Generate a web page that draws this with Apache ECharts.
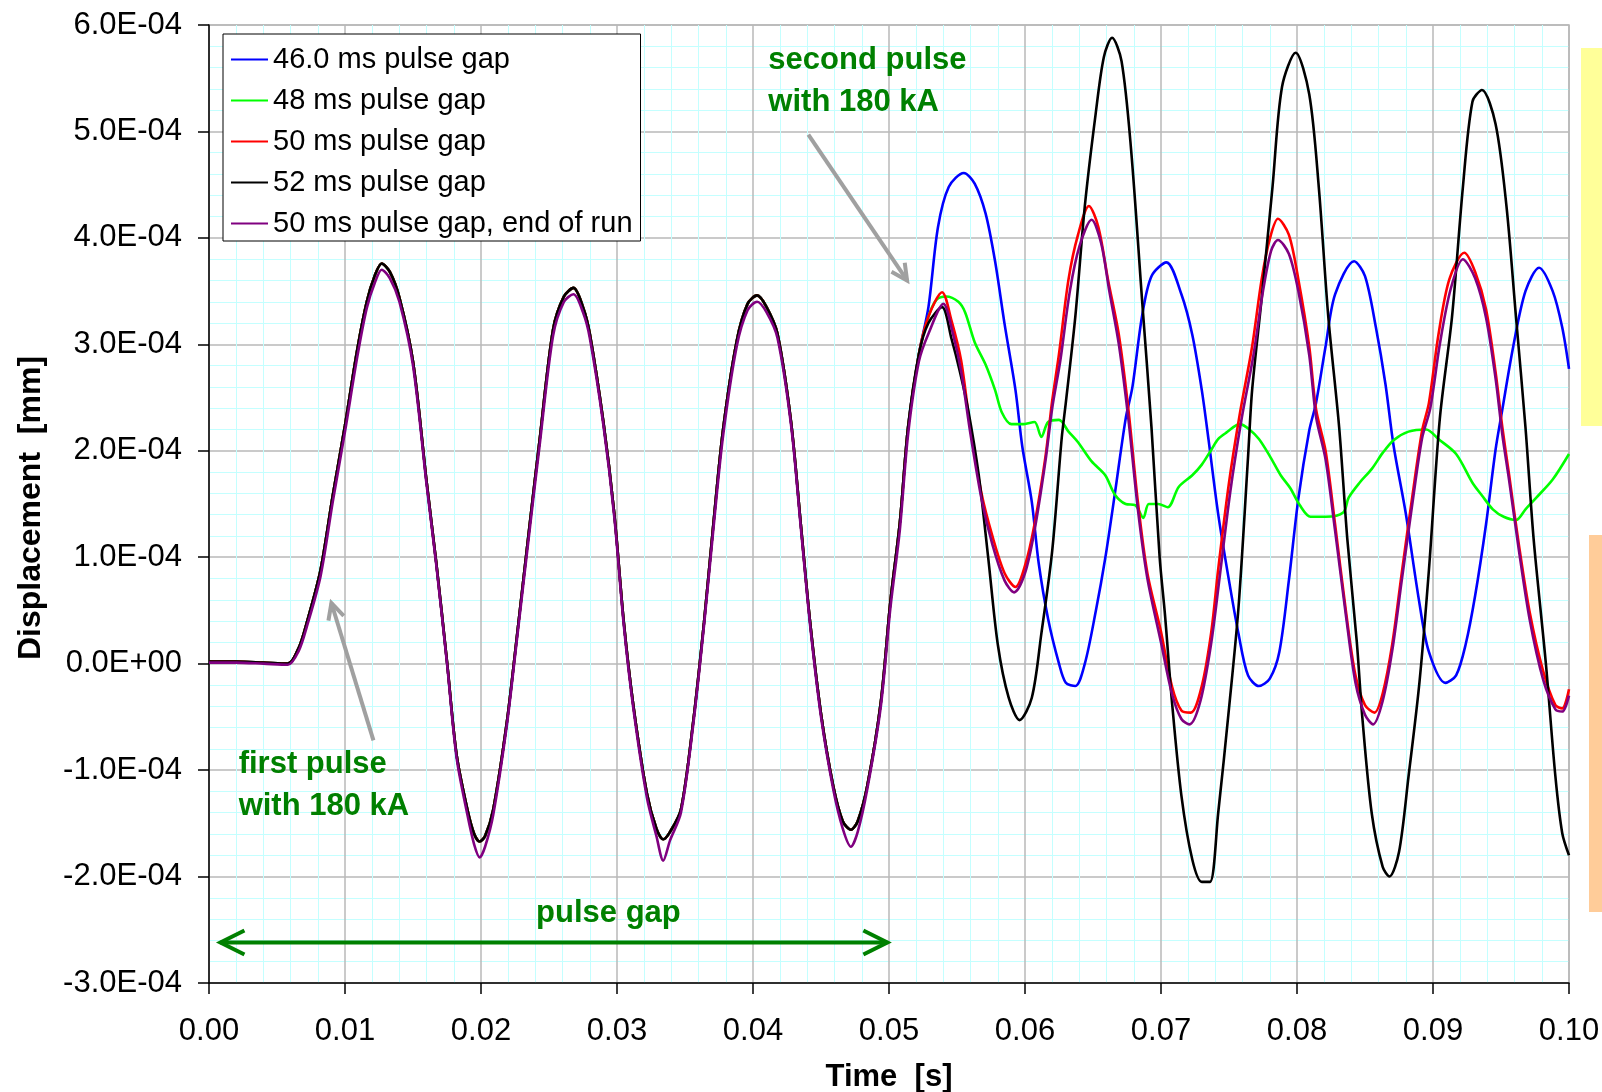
<!DOCTYPE html>
<html>
<head>
<meta charset="utf-8">
<title>Displacement vs time</title>
<script src="https://cdn.jsdelivr.net/npm/echarts@6/dist/echarts.min.js"></script>
<style>
  html, body { margin: 0; padding: 0; background: #fff; }
  #chart { width: 1602px; height: 1092px; }
</style>
</head>
<body>
<div id="chart"></div>
<script>
// first pulse: all runs lie on top of each other up to ~0.052 s
const tFirst = [0, 0.002, 0.004, 0.0058, 0.0066, 0.0072, 0.0082, 0.0091, 0.0100, 0.0109,
  0.0116, 0.0122, 0.0127, 0.0133, 0.0140, 0.0150, 0.0160, 0.0167, 0.0175, 0.0182,
  0.0190, 0.0195, 0.0199, 0.0203, 0.0209, 0.0219, 0.0226, 0.0236, 0.0243, 0.0253,
  0.0261, 0.0268, 0.0275, 0.0280, 0.0290, 0.0298, 0.0305, 0.0312, 0.0322, 0.0329,
  0.0334, 0.0339, 0.0347, 0.0356, 0.0364, 0.0371, 0.0378, 0.0388, 0.0396, 0.0403,
  0.0410, 0.0418, 0.0428, 0.0435, 0.0442, 0.0450, 0.0459, 0.0466, 0.0472, 0.0477,
  0.0484, 0.0494, 0.0501, 0.0508, 0.0514, 0.0522]

const yFirst = [0.02e-4, 0.02e-4, 0.01e-4, 0, 0.15e-4, 0.39e-4, 0.88e-4, 1.58e-4, 2.24e-4, 2.95e-4,
  3.40e-4, 3.65e-4, 3.76e-4, 3.68e-4, 3.44e-4, 2.84e-4, 1.71e-4, 0.96e-4, 0.02e-4, -0.85e-4,
  -1.37e-4, -1.60e-4, -1.67e-4, -1.62e-4, -1.37e-4, -0.55e-4, 0.21e-4, 1.33e-4, 2.09e-4, 3.14e-4,
  3.45e-4, 3.53e-4, 3.35e-4, 3.10e-4, 2.27e-4, 1.41e-4, 0.39e-4, -0.39e-4, -1.22e-4, -1.55e-4,
  -1.65e-4, -1.58e-4, -1.37e-4, -0.55e-4, 0.39e-4, 1.33e-4, 2.20e-4, 3.03e-4, 3.38e-4, 3.46e-4,
  3.35e-4, 3.10e-4, 2.27e-4, 1.33e-4, 0.39e-4, -0.47e-4, -1.15e-4, -1.48e-4, -1.56e-4, -1.48e-4,
  -1.15e-4, -0.36e-4, 0.58e-4, 1.33e-4, 2.22e-4, 2.91e-4]

// end-of-run trace dips a bit deeper at the troughs
const yFirstEnd = [0.01e-4, 0.01e-4, 0, -0.01e-4, 0.12e-4, 0.35e-4, 0.82e-4, 1.52e-4, 2.18e-4, 2.88e-4,
  3.34e-4, 3.58e-4, 3.70e-4, 3.62e-4, 3.40e-4, 2.80e-4, 1.68e-4, 0.94e-4, 0.0, -0.88e-4,
  -1.42e-4, -1.70e-4, -1.82e-4, -1.72e-4, -1.42e-4, -0.58e-4, 0.18e-4, 1.28e-4, 2.04e-4, 3.08e-4,
  3.40e-4, 3.47e-4, 3.30e-4, 3.06e-4, 2.24e-4, 1.38e-4, 0.36e-4, -0.42e-4, -1.26e-4, -1.62e-4,
  -1.85e-4, -1.66e-4, -1.40e-4, -0.58e-4, 0.36e-4, 1.28e-4, 2.14e-4, 2.98e-4, 3.32e-4, 3.40e-4,
  3.30e-4, 3.06e-4, 2.24e-4, 1.30e-4, 0.36e-4, -0.50e-4, -1.18e-4, -1.55e-4, -1.72e-4, -1.58e-4,
  -1.18e-4, -0.40e-4, 0.52e-4, 1.26e-4, 2.15e-4, 2.84e-4]

// after the second pulse the runs split apart
const tail46 = [[0.0529, 3.35e-4], [0.0536, 4.10e-4], [0.0544, 4.48e-4], [0.0555, 4.61e-4], [0.0563, 4.51e-4],
  [0.0571, 4.23e-4], [0.0578, 3.78e-4], [0.0585, 3.19e-4], [0.0593, 2.57e-4], [0.0598, 2.04e-4],
  [0.0605, 1.52e-4], [0.0610, 0.95e-4], [0.0617, 0.42e-4], [0.0625, 0.0], [0.0630, -0.18e-4],
  [0.0637, -0.21e-4], [0.0644, 0.0], [0.0652, 0.49e-4], [0.0659, 0.99e-4], [0.0666, 1.59e-4],
  [0.0674, 2.30e-4], [0.0679, 2.60e-4], [0.0686, 3.26e-4], [0.0693, 3.64e-4], [0.0704, 3.77e-4],
  [0.0715, 3.47e-4], [0.0723, 3.09e-4], [0.0730, 2.57e-4], [0.0735, 2.10e-4], [0.0742, 1.41e-4],
  [0.0750, 0.78e-4], [0.0757, 0.28e-4], [0.0764, -0.11e-4], [0.0772, -0.21e-4], [0.0780, -0.14e-4],
  [0.0787, 0.11e-4], [0.0794, 0.78e-4], [0.0801, 1.55e-4], [0.0809, 2.19e-4], [0.0814, 2.45e-4],
  [0.0821, 2.98e-4], [0.0828, 3.47e-4], [0.0842, 3.78e-4], [0.0850, 3.64e-4], [0.0858, 3.16e-4],
  [0.0865, 2.63e-4], [0.0871, 2.05e-4], [0.0880, 1.41e-4], [0.0890, 0.57e-4], [0.0897, 0.11e-4],
  [0.0909, -0.18e-4], [0.0917, -0.11e-4], [0.0924, 0.18e-4], [0.0931, 0.64e-4], [0.0939, 1.31e-4],
  [0.0946, 2.01e-4], [0.0951, 2.39e-4], [0.0959, 2.98e-4], [0.0968, 3.50e-4], [0.0978, 3.72e-4],
  [0.0988, 3.50e-4], [0.0995, 3.16e-4], [0.1, 2.77e-4]]

const tail48 = [[0.0529, 3.26e-4], [0.0535, 3.42e-4], [0.0542, 3.45e-4], [0.0551, 3.40e-4], [0.0556, 3.30e-4],
  [0.0563, 3.02e-4], [0.0571, 2.81e-4], [0.0578, 2.57e-4], [0.0583, 2.36e-4], [0.0590, 2.25e-4],
  [0.0598, 2.25e-4], [0.0607, 2.27e-4], [0.0612, 2.13e-4], [0.0617, 2.27e-4], [0.0625, 2.29e-4],
  [0.0632, 2.18e-4], [0.0639, 2.08e-4], [0.0649, 1.90e-4], [0.0659, 1.77e-4], [0.0666, 1.59e-4],
  [0.0674, 1.50e-4], [0.0681, 1.49e-4], [0.0687, 1.37e-4], [0.0691, 1.50e-4], [0.0698, 1.50e-4],
  [0.0705, 1.47e-4], [0.0713, 1.66e-4], [0.0723, 1.77e-4], [0.0730, 1.87e-4], [0.0737, 2.01e-4],
  [0.0742, 2.11e-4], [0.0748, 2.17e-4], [0.0758, 2.25e-4], [0.0765, 2.20e-4], [0.0772, 2.11e-4],
  [0.0780, 1.95e-4], [0.0788, 1.77e-4], [0.0795, 1.65e-4], [0.0802, 1.49e-4], [0.0810, 1.38e-4],
  [0.0821, 1.38e-4], [0.0834, 1.42e-4], [0.0838, 1.56e-4], [0.0846, 1.70e-4], [0.0855, 1.83e-4],
  [0.0863, 1.98e-4], [0.0871, 2.10e-4], [0.0882, 2.18e-4], [0.0895, 2.20e-4], [0.0904, 2.11e-4],
  [0.0917, 1.97e-4], [0.0929, 1.70e-4], [0.0936, 1.58e-4], [0.0944, 1.45e-4], [0.0952, 1.38e-4],
  [0.0961, 1.35e-4], [0.0968, 1.45e-4], [0.0976, 1.56e-4], [0.0988, 1.73e-4], [0.1, 1.97e-4]]

const tail50 = [[0.0529, 3.26e-4], [0.0539, 3.49e-4], [0.0546, 3.22e-4], [0.0553, 2.85e-4], [0.0560, 2.20e-4],
  [0.0568, 1.60e-4], [0.0576, 1.20e-4], [0.0585, 0.85e-4], [0.0593, 0.72e-4], [0.0600, 0.92e-4],
  [0.0607, 1.31e-4], [0.0615, 1.94e-4], [0.0620, 2.47e-4], [0.0625, 2.91e-4], [0.0632, 3.61e-4],
  [0.0639, 4.03e-4], [0.0647, 4.30e-4], [0.0654, 4.10e-4], [0.0661, 3.61e-4], [0.0669, 3.09e-4],
  [0.0676, 2.39e-4], [0.0683, 1.52e-4], [0.0690, 0.85e-4], [0.0700, 0.30e-4], [0.0708, -0.21e-4],
  [0.0715, -0.44e-4], [0.0722, -0.46e-4], [0.0730, -0.21e-4], [0.0737, 0.30e-4], [0.0742, 0.88e-4],
  [0.0750, 1.70e-4], [0.0758, 2.35e-4], [0.0767, 2.98e-4], [0.0774, 3.61e-4], [0.0780, 3.99e-4],
  [0.0786, 4.18e-4], [0.0794, 4.03e-4], [0.0801, 3.61e-4], [0.0809, 2.98e-4], [0.0814, 2.39e-4],
  [0.0821, 2.00e-4], [0.0828, 1.31e-4], [0.0836, 0.49e-4], [0.0843, -0.11e-4], [0.0850, -0.39e-4],
  [0.0857, -0.46e-4], [0.0863, -0.28e-4], [0.0870, 0.18e-4], [0.0877, 0.85e-4], [0.0885, 1.59e-4],
  [0.0892, 2.19e-4], [0.0897, 2.45e-4], [0.0904, 3.09e-4], [0.0912, 3.61e-4], [0.0923, 3.86e-4],
  [0.0931, 3.68e-4], [0.0939, 3.33e-4], [0.0946, 2.74e-4], [0.0951, 2.22e-4], [0.0956, 1.77e-4],
  [0.0963, 1.13e-4], [0.0971, 0.49e-4], [0.0981, -0.07e-4], [0.0990, -0.39e-4], [0.0995, -0.42e-4],
  [0.1, -0.24e-4]]

const tail52 = [[0.0529, 3.20e-4], [0.0539, 3.35e-4], [0.0546, 3.05e-4], [0.0552, 2.75e-4], [0.0558, 2.40e-4],
  [0.0566, 1.77e-4], [0.0573, 0.99e-4], [0.0580, 0.18e-4], [0.0588, -0.32e-4], [0.0596, -0.53e-4],
  [0.0605, -0.32e-4], [0.0612, 0.28e-4], [0.0620, 1.06e-4], [0.0627, 2.12e-4], [0.0630, 2.45e-4],
  [0.0637, 3.26e-4], [0.0644, 4.30e-4], [0.0652, 5.17e-4], [0.0658, 5.70e-4], [0.0664, 5.88e-4],
  [0.0671, 5.66e-4], [0.0678, 4.83e-4], [0.0686, 3.43e-4], [0.0693, 2.22e-4], [0.0699, 1.00e-4],
  [0.0703, 0.45e-4], [0.0708, -0.35e-4], [0.0715, -1.24e-4], [0.0723, -1.84e-4], [0.0730, -2.05e-4],
  [0.0736, -2.05e-4], [0.0742, -1.41e-4], [0.0750, -0.42e-4], [0.0757, 0.53e-4], [0.0764, 1.94e-4],
  [0.0767, 2.57e-4], [0.0774, 3.43e-4], [0.0782, 4.48e-4], [0.0789, 5.42e-4], [0.0799, 5.74e-4],
  [0.0809, 5.35e-4], [0.0816, 4.48e-4], [0.0823, 3.26e-4], [0.0831, 2.22e-4], [0.0837, 1.17e-4],
  [0.0844, 0.20e-4], [0.0848, -0.50e-4], [0.0855, -1.41e-4], [0.0863, -1.91e-4], [0.0868, -2.00e-4],
  [0.0875, -1.77e-4], [0.0882, -1.06e-4], [0.0890, -0.18e-4], [0.0897, 0.88e-4], [0.0905, 2.30e-4],
  [0.0914, 3.26e-4], [0.0922, 4.48e-4], [0.0929, 5.28e-4], [0.0936, 5.39e-4], [0.0946, 5.07e-4],
  [0.0954, 4.30e-4], [0.0961, 3.26e-4], [0.0968, 2.22e-4], [0.0974, 1.17e-4], [0.0983, 0.0],
  [0.0990, -1.06e-4], [0.0995, -1.59e-4], [0.1, -1.80e-4]]

const tail50End = [[0.0529, 3.10e-4], [0.0540, 3.38e-4], [0.0547, 3.10e-4], [0.0553, 2.75e-4], [0.0560, 2.15e-4],
  [0.0568, 1.55e-4], [0.0576, 1.12e-4], [0.0585, 0.78e-4], [0.0592, 0.67e-4], [0.0600, 0.85e-4],
  [0.0607, 1.25e-4], [0.0615, 1.90e-4], [0.0620, 2.40e-4], [0.0626, 2.85e-4], [0.0633, 3.50e-4],
  [0.0640, 3.92e-4], [0.0649, 4.17e-4], [0.0656, 3.95e-4], [0.0662, 3.50e-4], [0.0669, 3.00e-4],
  [0.0676, 2.30e-4], [0.0683, 1.45e-4], [0.0690, 0.80e-4], [0.0700, 0.20e-4], [0.0708, -0.28e-4],
  [0.0715, -0.52e-4], [0.0721, -0.57e-4], [0.0729, -0.35e-4], [0.0737, 0.20e-4], [0.0743, 0.80e-4],
  [0.0751, 1.62e-4], [0.0759, 2.28e-4], [0.0768, 2.90e-4], [0.0775, 3.50e-4], [0.0781, 3.88e-4],
  [0.0786, 3.98e-4], [0.0794, 3.85e-4], [0.0801, 3.50e-4], [0.0809, 2.90e-4], [0.0814, 2.32e-4],
  [0.0821, 1.92e-4], [0.0828, 1.25e-4], [0.0836, 0.45e-4], [0.0843, -0.18e-4], [0.0850, -0.48e-4],
  [0.0856, -0.57e-4], [0.0863, -0.35e-4], [0.0870, 0.12e-4], [0.0877, 0.78e-4], [0.0885, 1.52e-4],
  [0.0892, 2.12e-4], [0.0898, 2.40e-4], [0.0905, 3.00e-4], [0.0913, 3.52e-4], [0.0922, 3.80e-4],
  [0.0931, 3.62e-4], [0.0939, 3.25e-4], [0.0946, 2.68e-4], [0.0951, 2.15e-4], [0.0956, 1.72e-4],
  [0.0963, 1.08e-4], [0.0971, 0.42e-4], [0.0981, -0.15e-4], [0.0990, -0.43e-4], [0.0995, -0.45e-4],
  [0.1, -0.30e-4]]

const seriesNames = ['46.0 ms pulse gap', '48 ms pulse gap', '50 ms pulse gap', '52 ms pulse gap', '50 ms pulse gap, end of run']
const seriesColors = ['#0000ff', '#00ff00', '#ff0000', '#000000', '#800080']

const FONT = 'Liberation Sans, Arial, sans-serif'
const NOTE_GREEN = '#008000'

function joinRun(first, tail) {
  return tFirst.map((t, i) => [t, first[i]]).concat(tail)
}

const runs = [
  joinRun(yFirst, tail46),
  joinRun(yFirst, tail48),
  joinRun(yFirst, tail50),
  joinRun(yFirst, tail52),
  joinRun(yFirstEnd, tail50End)
]

// 6.0E-04 style labels like the spreadsheet
function sciLabel(v) {
  const s = v.toExponential(1).toUpperCase()
  return s.replace(/E([+-])(\d+)$/, (m, sign, exp) => 'E' + sign + (exp.length < 2 ? '0' + exp : exp))
}

const chart = echarts.init(document.getElementById('chart'))

chart.setOption({
  animation: false,
  backgroundColor: '#fff',
  textStyle: { fontFamily: FONT },
  grid: {
    left: 209, top: 25, right: 33, bottom: 109,
    outerBoundsMode: 'none',
    containLabel: false,
    show: true, backgroundColor: '#fff', borderColor: '#b4b4b4', borderWidth: 1.5
  },
  legend: {
    orient: 'vertical',
    left: 223, top: 34,
    backgroundColor: '#fff',
    borderColor: '#000', borderWidth: 1,
    padding: [11, 8, 3, 8],
    icon: 'rect',
    itemWidth: 37, itemHeight: 2, itemGap: 12,
    textStyle: { fontSize: 29, color: '#000', fontFamily: FONT, lineHeight: 28 },
    data: seriesNames
  },
  xAxis: {
    type: 'value', min: 0, max: 0.1, interval: 0.01,
    name: 'Time  [s]', nameLocation: 'middle', nameGap: 79,
    nameTextStyle: { fontSize: 31, fontWeight: 'bold', color: '#000', fontFamily: FONT },
    axisLine: { onZero: false, lineStyle: { color: '#000', width: 1.5 } },
    axisTick: { show: true, length: 11, lineStyle: { color: '#000', width: 1.5 } },
    axisLabel: { formatter: v => v.toFixed(2), fontSize: 31, color: '#000', margin: 33, fontFamily: FONT },
    splitLine: { show: true, lineStyle: { color: '#b8b8b8', width: 1.5 } },
    minorTick: { show: false, splitNumber: 5 },
    minorSplitLine: { show: true, lineStyle: { color: '#c4ffff', width: 1 } }
  },
  yAxis: {
    type: 'value', min: -3e-4, max: 6e-4, interval: 1e-4,
    name: 'Displacement  [mm]', nameLocation: 'middle', nameGap: 162, nameRotate: 90,
    nameTextStyle: { fontSize: 32, fontWeight: 'bold', color: '#000', fontFamily: FONT, padding: [0, 8, 0, 0] },
    axisLine: { onZero: false, lineStyle: { color: '#000', width: 1.5 } },
    axisTick: { show: true, length: 11, lineStyle: { color: '#000', width: 1.5 } },
    axisLabel: { formatter: sciLabel, fontSize: 31, color: '#000', margin: 27, fontFamily: FONT },
    splitLine: { show: true, lineStyle: { color: '#b8b8b8', width: 1.5 } },
    minorTick: { show: false, splitNumber: 5 },
    minorSplitLine: { show: true, lineStyle: { color: '#c4ffff', width: 1 } }
  },
  series: runs.map((data, i) => ({
    name: seriesNames[i],
    type: 'line',
    data: data,
    symbol: 'none',
    showSymbol: false,
    smooth: 0.3,
    color: seriesColors[i],
    lineStyle: { color: seriesColors[i], width: 2.6 }
  }))
})

// annotations placed in data coordinates
function px(t, v) {
  return chart.convertToPixel({ gridIndex: 0 }, [t, v])
}

function vHead(tip, from, len, half) {
  const dx = tip[0] - from[0], dy = tip[1] - from[1]
  const d = Math.sqrt(dx * dx + dy * dy)
  const ux = dx / d, uy = dy / d
  const bx = tip[0] - ux * len, by = tip[1] - uy * len
  return [[bx - uy * half, by + ux * half], tip, [bx + uy * half, by - ux * half]]
}

function noteText(t, v, text, align) {
  const p = px(t, v)
  return {
    type: 'text', x: p[0], y: p[1], z: 100,
    style: { text: text, fill: NOTE_GREEN, font: 'bold 31px ' + FONT, align: align || 'left', verticalAlign: 'middle' }
  }
}

function arrowLine(a, b, color, width, len, half, both) {
  const items = [{
    type: 'line', z: 100,
    shape: { x1: a[0], y1: a[1], x2: b[0], y2: b[1] },
    style: { stroke: color, lineWidth: width }
  }, {
    type: 'polyline', z: 100,
    shape: { points: vHead(b, a, len, half) },
    style: { stroke: color, lineWidth: width, fill: null }
  }]
  if (both) {
    items.push({
      type: 'polyline', z: 100,
      shape: { points: vHead(a, b, len, half) },
      style: { stroke: color, lineWidth: width, fill: null }
    })
  }
  return items
}

const gapA = px(0.00084, -2.62e-4)
const gapB = px(0.04988, -2.62e-4)

chart.setOption({
  graphic: [
    noteText(0.04113, 5.67e-4, 'second pulse'),
    noteText(0.04113, 5.27e-4, 'with 180 kA'),
    noteText(0.00218, -0.95e-4, 'first pulse'),
    noteText(0.00218, -1.34e-4, 'with 180 kA'),
    noteText(0.02937, -2.35e-4, 'pulse gap', 'center'),
    ...arrowLine(px(0.04407, 4.97e-4), px(0.05133, 3.60e-4), '#a0a0a0', 4, 16, 8, false),
    ...arrowLine(px(0.01209, -0.72e-4), px(0.00900, 0.57e-4), '#a0a0a0', 4, 16, 8, false),
    ...arrowLine(gapA, gapB, NOTE_GREEN, 4, 24, 12, true),
    // clipped text boxes at the right edge of the slide
    { type: 'rect', z: 100, shape: { x: 1581, y: 48, width: 40, height: 378 }, style: { fill: '#ffff99' } },
    { type: 'rect', z: 100, shape: { x: 1589, y: 535, width: 40, height: 377 }, style: { fill: '#ffcc99' } }
  ]
})
</script>
</body>
</html>
